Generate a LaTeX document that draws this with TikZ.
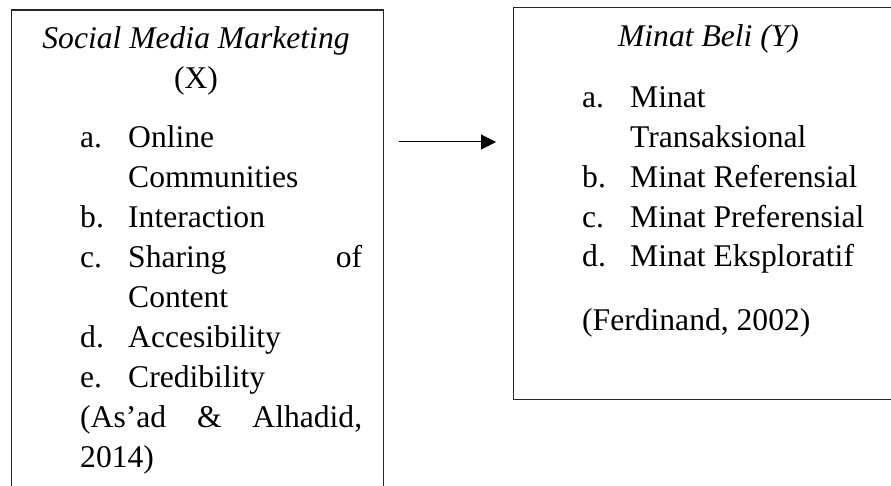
\documentclass[tikz,border=0pt]{standalone}
\usepackage{fontspec}
\setmainfont{Liberation Serif}
\usetikzlibrary{arrows.meta}
\begin{document}
\begin{tikzpicture}[x=1pt,y=-1pt,
  txt/.style={inner sep=0pt, anchor=base west, font=\fontsize{31.6}{40}\selectfont},
  box/.style={draw=black!85, line width=1.2pt, rectangle, inner sep=0pt, anchor=north west},
  arr/.style={draw=black, line width=1pt, -{Triangle[length=15pt,width=15pt]}}]
\useasboundingbox (0,0) rectangle (891,486);
\clip (0,0) rectangle (891,486);
% boxes
\node[box, minimum width=372pt, minimum height=500pt] (L) at (11,9.5) {};
\node[box, minimum width=400pt, minimum height=392pt] (R) at (513,7) {};
% left box text
\node[txt, anchor=base] (lt1) at (196,49) {\itshape Social Media Marketing};
\node[txt, anchor=base] (lt2) at (196,89) {(X)};
\node[txt] (la)  at (80,148) {a.};
\node[txt] (lat) at (128,148) {Online};
\node[txt] (lat2) at (128,188) {Communities};
\node[txt] (lb)  at (80,228) {b.};
\node[txt] (lbt) at (128,228) {Interaction};
\node[txt] (lc)  at (80,268) {c.};
\node[txt] (lct) at (128,268) {\hbox to 234pt{Sharing\hfill of}};
\node[txt] (lct2) at (128,307) {Content};
\node[txt] (ld)  at (80,347) {d.};
\node[txt] (ldt) at (128,347) {Accesibility};
\node[txt] (le)  at (80,387) {e.};
\node[txt] (let) at (128,387) {Credibility};
\node[txt] (lr1) at (80,427) {\hbox to 282pt{(As’ad\hfill\&\hfill Alhadid,}};
\node[txt] (lr2) at (80,467) {2014)};
% right box text
\node[txt, anchor=base] (rt) at (708.5,47) {\itshape Minat Beli (Y)};
\node[txt] (ra)  at (582,108) {a.};
\node[txt] (rat) at (630,108) {Minat};
\node[txt] (rat2) at (630,148) {Transaksional};
\node[txt] (rb)  at (582,188) {b.};
\node[txt] (rbt) at (630,188) {Minat Referensial};
\node[txt] (rc)  at (582,228) {c.};
\node[txt] (rct) at (630,228) {Minat Preferensial};
\node[txt] (rd)  at (582,267) {d.};
\node[txt] (rdt) at (630,267) {Minat Eksploratif};
\node[txt] (rr)  at (582,330) {(Ferdinand, 2002)};
% arrow
\coordinate (as) at (399,142);
\coordinate (ae) at (496,142);
\draw[arr] (as) -- (ae);
\end{tikzpicture}
\end{document}
